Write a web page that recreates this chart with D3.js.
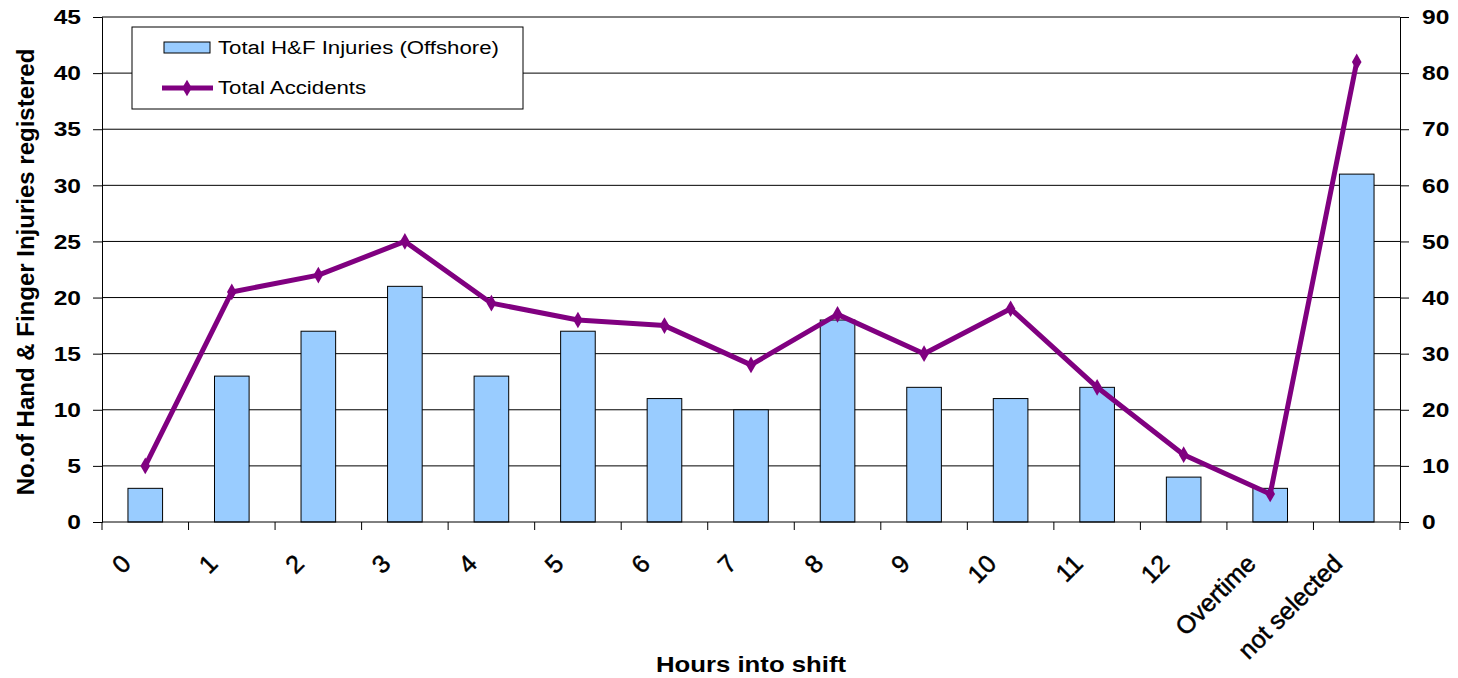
<!DOCTYPE html>
<html>
<head>
<meta charset="utf-8">
<script src="https://cdn.jsdelivr.net/npm/d3@7"></script>
<style>
  body { margin: 0; background: #fff; }
  text { font-family: Arial, "Liberation Sans", sans-serif; }
</style>
</head>
<body>
<div id="chart"></div>
<script>
// data
const categories = ['0', '1', '2', '3', '4', '5', '6', '7', '8', '9', '10', '11', '12', 'Overtime', 'not selected'];
const injuries = [3, 13, 17, 21, 13, 17, 11, 10, 18, 12, 11, 12, 4, 3, 31];
const accidents = [10, 41, 44, 50, 39, 36, 35, 28, 37, 30, 38, 24, 12, 5, 82];
const leftTicks = [0, 5, 10, 15, 20, 25, 30, 35, 40, 45];
const rightTicks = [0, 10, 20, 30, 40, 50, 60, 70, 80, 90];

const width = 1458, height = 678;
const margin = { top: 17, right: 58, bottom: 156, left: 102 };
const innerW = width - margin.left - margin.right;
const innerH = height - margin.top - margin.bottom;
const stretch = 1.17; // the picture's text is a bit wider than tall

const svg = d3.select('#chart').append('svg')
  .attr('width', width)
  .attr('height', height);

const g = svg.append('g')
  .attr('transform', `translate(${margin.left}, ${margin.top})`);

const x = d3.scaleBand()
  .domain(categories)
  .range([0, innerW])
  .paddingInner(0.6)
  .paddingOuter(0.3);

const band = d3.scaleBand().domain(categories).range([0, innerW]);

const yLeft = d3.scaleLinear().domain([0, 45]).range([innerH, 0]);
const yRight = d3.scaleLinear().domain([0, 90]).range([innerH, 0]);

// gridlines
g.append('g')
  .selectAll('line')
  .data(leftTicks.slice(1))
  .enter()
  .append('line')
  .attr('x1', 0)
  .attr('x2', innerW)
  .attr('y1', d => yLeft(d))
  .attr('y2', d => yLeft(d))
  .style('stroke', '#000')
  .style('stroke-width', 1);

// bars
g.append('g')
  .selectAll('rect')
  .data(injuries)
  .enter()
  .append('rect')
  .attr('x', (d, i) => x(categories[i]))
  .attr('width', x.bandwidth())
  .attr('y', d => yLeft(d))
  .attr('height', d => innerH - yLeft(d))
  .style('fill', '#99ccff')
  .style('stroke', '#000')
  .style('stroke-width', 1);

// line
const line = d3.line()
  .x((d, i) => band(categories[i]) + band.bandwidth() / 2)
  .y(d => yRight(d));

g.append('path')
  .datum(accidents)
  .attr('d', line)
  .style('fill', 'none')
  .style('stroke', '#800080')
  .style('stroke-width', 5)
  .style('stroke-linejoin', 'round');

const diamond = d3.symbol().type(d3.symbolDiamond).size(80);
g.append('g')
  .selectAll('path')
  .data(accidents)
  .enter()
  .append('path')
  .attr('d', diamond)
  .attr('transform', (d, i) => `translate(${band(categories[i]) + band.bandwidth() / 2}, ${yRight(d)})`)
  .style('fill', '#800080');

// axes
const leftAxis = g.append('g')
  .call(d3.axisLeft(yLeft).tickValues(leftTicks).tickSize(9));
leftAxis.selectAll('text')
  .attr('x', 0)
  .attr('transform', `translate(-21, 0) scale(${stretch}, 1)`);

const rightAxis = g.append('g')
  .attr('transform', `translate(${innerW}, 0)`)
  .call(d3.axisRight(yRight).tickValues(rightTicks).tickSize(9));
rightAxis.selectAll('text')
  .attr('x', 0)
  .attr('transform', `translate(22, 0) scale(${stretch}, 1)`);

[leftAxis, rightAxis].forEach(a => {
  a.select('.domain').style('stroke', '#000').style('stroke-width', 1);
  a.selectAll('line').style('stroke', '#000');
  a.selectAll('text')
    .style('font-size', '21px')
    .style('font-weight', 'bold')
    .style('fill', '#000');
});

// x axis: ticks at category boundaries
const xAxis = g.append('g').attr('transform', `translate(0, ${innerH})`);
xAxis.append('line')
  .attr('x1', 0).attr('x2', innerW)
  .style('stroke', '#000');
xAxis.selectAll('.tk')
  .data(categories.concat(['end']))
  .enter()
  .append('line')
  .attr('x1', (d, i) => i * band.step())
  .attr('x2', (d, i) => i * band.step())
  .attr('y1', 0)
  .attr('y2', 8)
  .style('stroke', '#000');
xAxis.selectAll('text')
  .data(categories)
  .enter()
  .append('text')
  .attr('text-anchor', 'end')
  .attr('transform', d => `translate(${band(d) + band.bandwidth() / 2 - 19}, 37) rotate(-45)`)
  .attr('dy', '0.35em')
  .style('font-size', '25px')
  .style('stroke', '#000')
  .style('stroke-width', 0.5)
  .text(d => d);

// axis titles
svg.append('text')
  .attr('transform', `translate(${margin.left + innerW / 2}, 672) scale(${stretch}, 1)`)
  .attr('text-anchor', 'middle')
  .style('font-size', '22px')
  .style('font-weight', 'bold')
  .text('Hours into shift');

svg.append('text')
  .attr('transform', `translate(34, 272) rotate(-90)`)
  .attr('text-anchor', 'middle')
  .style('font-size', '24px')
  .style('font-weight', 'bold')
  .text('No.of Hand & Finger Injuries registered');

// legend
const legend = svg.append('g').attr('transform', 'translate(132, 27)');
legend.append('rect')
  .attr('width', 391).attr('height', 82)
  .style('fill', '#fff').style('stroke', '#000');
legend.append('rect')
  .attr('x', 32).attr('y', 15).attr('width', 46).attr('height', 11)
  .style('fill', '#99ccff').style('stroke', '#000');
legend.append('text')
  .attr('transform', `translate(86, 20) scale(${stretch}, 1)`)
  .attr('dy', '0.35em')
  .style('font-size', '19px')
  .text('Total H&F Injuries (Offshore)');
legend.append('line')
  .attr('x1', 30).attr('x2', 81).attr('y1', 61).attr('y2', 61)
  .style('stroke', '#800080').style('stroke-width', 5);
legend.append('path')
  .attr('d', diamond)
  .attr('transform', 'translate(55, 61)')
  .style('fill', '#800080');
legend.append('text')
  .attr('transform', `translate(86, 60) scale(${stretch}, 1)`)
  .attr('dy', '0.35em')
  .style('font-size', '19px')
  .text('Total Accidents');
</script>
</body>
</html>
